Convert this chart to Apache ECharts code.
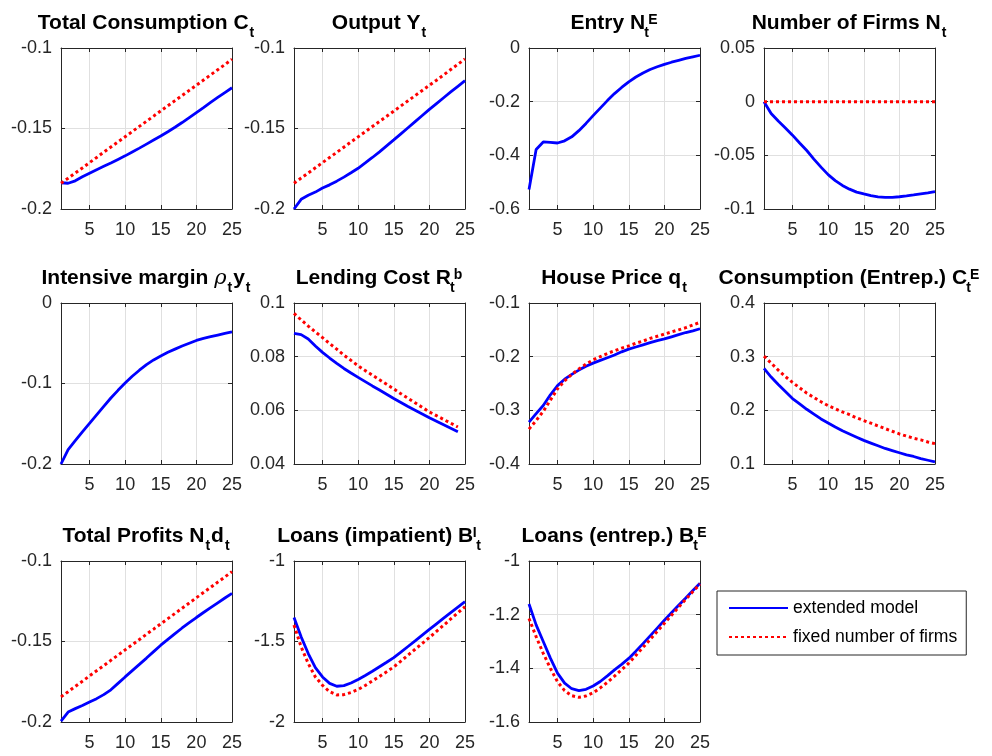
<!DOCTYPE html>
<html>
<head>
<meta charset="utf-8">
<script src="https://cdn.jsdelivr.net/npm/echarts@6/dist/echarts.min.js"></script>
<style>html,body{margin:0;padding:0;background:#fff}#chart{width:992px;height:756px}</style>
</head>
<body>
<div id="chart"></div>
<script>
// ---- data ----
const periods = [1,2,3,4,5,6,7,8,9,10,11,12,13,14,15,16,17,18,19,20,21,22,23,24,25];
const xTickValues = [5,10,15,20,25];
const seriesNames = ['extended model', 'fixed number of firms'];

const consTotalExt = [-0.1837,-0.1840,-0.1825,-0.1800,-0.1778,-0.1756,-0.1735,-0.1714,-0.1692,-0.1670,-0.1646,-0.1622,-0.1597,-0.1572,-0.1547,-0.1520,-0.1492,-0.1463,-0.1432,-0.1401,-0.1370,-0.1338,-0.1307,-0.1277,-0.1247];
const consTotalFix = [-0.1840,-0.1809,-0.1777,-0.1745,-0.1712,-0.1680,-0.1647,-0.1615,-0.1583,-0.1551,-0.1519,-0.1487,-0.1455,-0.1423,-0.1391,-0.1359,-0.1327,-0.1295,-0.1263,-0.1231,-0.1199,-0.1167,-0.1135,-0.1103,-0.1070];
const outputExt = [-0.2000,-0.1940,-0.1915,-0.1895,-0.1870,-0.1850,-0.1827,-0.1802,-0.1775,-0.1747,-0.1714,-0.1680,-0.1645,-0.1608,-0.1571,-0.1533,-0.1495,-0.1457,-0.1419,-0.1381,-0.1345,-0.1309,-0.1273,-0.1238,-0.1203];
const outputFix = [-0.1840,-0.1808,-0.1776,-0.1744,-0.1712,-0.1680,-0.1648,-0.1616,-0.1584,-0.1552,-0.1520,-0.1488,-0.1456,-0.1424,-0.1392,-0.1360,-0.1328,-0.1296,-0.1264,-0.1232,-0.1200,-0.1167,-0.1134,-0.1101,-0.1068];
const entryExt = [-0.527,-0.378,-0.350,-0.352,-0.354,-0.346,-0.331,-0.308,-0.281,-0.252,-0.224,-0.196,-0.170,-0.147,-0.126,-0.108,-0.093,-0.080,-0.070,-0.061,-0.053,-0.046,-0.039,-0.033,-0.027];
const firmsExt = [0.0000,-0.0110,-0.0180,-0.0245,-0.0312,-0.0385,-0.0455,-0.0535,-0.0610,-0.0680,-0.0735,-0.0780,-0.0815,-0.0843,-0.0860,-0.0876,-0.0887,-0.0892,-0.0891,-0.0886,-0.0878,-0.0869,-0.0859,-0.0849,-0.0838];
const firmsFix = [0,0,0,0,0,0,0,0,0,0,0,0,0,0,0,0,0,0,0,0,0,0,0,0,0];
const intMarginExt = [-0.2000,-0.1820,-0.1710,-0.1600,-0.1495,-0.1390,-0.1285,-0.1180,-0.1085,-0.0995,-0.0910,-0.0835,-0.0765,-0.0707,-0.0658,-0.0612,-0.0573,-0.0535,-0.0500,-0.0465,-0.0440,-0.0418,-0.0398,-0.0378,-0.0360];
const lendCostExt = [0.0887,0.0882,0.0866,0.0840,0.0816,0.0795,0.0775,0.0756,0.0739,0.0723,0.0707,0.0691,0.0676,0.0660,0.0644,0.0629,0.0614,0.0600,0.0586,0.0572,0.0559,0.0546,0.0533,0.0520];
const lendCostFix = [0.0961,0.0937,0.0914,0.0892,0.0871,0.0849,0.0828,0.0806,0.0786,0.0766,0.0748,0.0731,0.0714,0.0697,0.0680,0.0662,0.0645,0.0628,0.0611,0.0594,0.0580,0.0566,0.0552,0.0538];
const housePriceExt = [-0.322,-0.306,-0.291,-0.271,-0.254,-0.242,-0.233,-0.225,-0.218,-0.212,-0.207,-0.202,-0.197,-0.191,-0.186,-0.182,-0.178,-0.174,-0.170,-0.167,-0.163,-0.159,-0.155,-0.152,-0.148];
const housePriceFix = [-0.335,-0.319,-0.302,-0.281,-0.260,-0.245,-0.233,-0.223,-0.214,-0.206,-0.200,-0.194,-0.189,-0.184,-0.180,-0.175,-0.171,-0.166,-0.162,-0.158,-0.154,-0.150,-0.146,-0.141,-0.136];
const consEntExt = [0.278,0.262,0.248,0.235,0.222,0.212,0.202,0.193,0.184,0.1765,0.169,0.162,0.156,0.150,0.144,0.139,0.134,0.129,0.125,0.121,0.117,0.114,0.110,0.107,0.104];
const consEntFix = [0.301,0.288,0.275,0.263,0.252,0.242,0.232,0.224,0.216,0.2086,0.203,0.197,0.192,0.186,0.181,0.176,0.171,0.166,0.161,0.156,0.152,0.148,0.145,0.141,0.138];
const profitsExt = [-0.1995,-0.1938,-0.1917,-0.1898,-0.1876,-0.1855,-0.1830,-0.1800,-0.1760,-0.1720,-0.1681,-0.1642,-0.1603,-0.1563,-0.1523,-0.1487,-0.1451,-0.1416,-0.1383,-0.1351,-0.1320,-0.1290,-0.1260,-0.1230,-0.1201];
const profitsFix = [-0.1844,-0.1812,-0.1779,-0.1747,-0.1714,-0.1682,-0.1650,-0.1617,-0.1585,-0.1552,-0.1520,-0.1488,-0.1455,-0.1423,-0.1390,-0.1358,-0.1326,-0.1293,-0.1261,-0.1228,-0.1196,-0.1164,-0.1131,-0.1099,-0.1066];
const loansImpExt = [-1.351,-1.471,-1.575,-1.662,-1.720,-1.760,-1.778,-1.774,-1.758,-1.736,-1.711,-1.685,-1.657,-1.629,-1.600,-1.566,-1.531,-1.496,-1.460,-1.425,-1.390,-1.355,-1.321,-1.287,-1.253];
const loansImpFix = [-1.398,-1.533,-1.637,-1.720,-1.772,-1.812,-1.832,-1.830,-1.817,-1.798,-1.773,-1.745,-1.717,-1.688,-1.658,-1.622,-1.585,-1.548,-1.512,-1.475,-1.437,-1.399,-1.360,-1.322,-1.284];
const loansEntExt = [-1.160,-1.238,-1.300,-1.362,-1.418,-1.455,-1.476,-1.483,-1.478,-1.466,-1.449,-1.428,-1.406,-1.385,-1.363,-1.336,-1.308,-1.279,-1.250,-1.221,-1.193,-1.165,-1.138,-1.110,-1.083];
const loansEntFix = [-1.214,-1.282,-1.344,-1.400,-1.450,-1.483,-1.502,-1.508,-1.503,-1.491,-1.473,-1.452,-1.429,-1.405,-1.381,-1.352,-1.322,-1.292,-1.262,-1.232,-1.202,-1.172,-1.143,-1.114,-1.086];

// y-axis ranges [min, max, interval]
const yRangeList = [
  [-0.2,-0.1,0.05],[-0.2,-0.1,0.05],[-0.6,0,0.2],[-0.1,0.05,0.05],
  [-0.2,0,0.1],[0.04,0.1,0.02],[-0.4,-0.1,0.1],[0.1,0.4,0.1],
  [-0.2,-0.1,0.05],[-2,-1,0.5],[-1.6,-1,0.2]
];

// titles (rich text: m main, s subscript, s0 stacked subscript, p superscript, p0 stacked superscript, g greek)
const titleTexts = [
  '{m|Total Consumption C}{s|t}',
  '{m|Output Y}{s|t}',
  '{m|Entry N}{s0|t}{p|E}',
  '{m|Number of Firms N}{s|t}',
  '{m|Intensive margin }{g|ρ}{s|t}{m|y}{s|t}',
  '{m|Lending Cost R}{s0|t}{p|b}',
  '{m|House Price q}{s|t}',
  '{m|Consumption (Entrep.) C}{s0|t}{p|E}',
  '{m|Total Profits N}{s|t}{m|d}{s|t}',
  '{m|Loans (impatient) B}{p0|I}{s|t}',
  '{m|Loans (entrep.) B}{s0|t}{p|E}'
];

const extList = [consTotalExt, outputExt, entryExt, firmsExt, intMarginExt, lendCostExt, housePriceExt, consEntExt, profitsExt, loansImpExt, loansEntExt];
const fixList = [consTotalFix, outputFix, null, firmsFix, null, lendCostFix, housePriceFix, consEntFix, profitsFix, loansImpFix, loansEntFix];

// ---- layout / style ----
const FONT = "'Liberation Sans', Arial, Helvetica, sans-serif";
const AX = '#262626';
const colLeft = [61, 294, 529, 764];
const rowTop = [48, 303, 561];
const W = 171, H = 161;

const rich = {
  m: {fontSize: 21, fontWeight: 'bold', color: '#000', fontFamily: FONT, verticalAlign: 'top', padding: [0,0,0,0]},
  g: {fontSize: 21, fontWeight: 'normal', fontStyle: 'italic', color: '#000', fontFamily: "'DejaVu Serif', serif", verticalAlign: 'top', padding: [0,0,0,0]},
  s: {fontSize: 14, fontWeight: 'bold', color: '#000', fontFamily: FONT, verticalAlign: 'top', padding: [13,1,0,1]},
  s0: {fontSize: 14, fontWeight: 'bold', color: '#000', fontFamily: FONT, verticalAlign: 'top', padding: [13,0,0,1], width: 1},
  p: {fontSize: 14, fontWeight: 'bold', color: '#000', fontFamily: FONT, verticalAlign: 'top', padding: [0,1,0,1]},
  p0: {fontSize: 14, fontWeight: 'bold', color: '#000', fontFamily: FONT, verticalAlign: 'top', padding: [0,0,0,1], width: 1}
};

const grids = [], xAxes = [], yAxes = [], series = [], titles = [];
const toPairs = arr => arr.map((v, k) => [periods[k], v]);

extList.forEach((ext, i) => {
  const r = Math.floor(i / 4), c = i % 4;
  const [ymin, ymax, yint] = yRangeList[i];
  grids.push({left: colLeft[c], top: rowTop[r], width: W, height: H});
  titles.push({
    text: titleTexts[i], left: colLeft[c] + W / 2, top: rowTop[r] - 35, textAlign: 'center', padding: 0,
    textStyle: {rich: rich, fontSize: 21, fontWeight: 'bold', fontFamily: FONT, color: '#000'}
  });
  const xBase = {
    gridIndex: i, type: 'value', min: 1, max: 25,
    axisLine: {show: true, onZero: false, lineStyle: {color: AX, width: 1}},
    axisTick: {show: true, inside: true, length: 4, customValues: xTickValues, lineStyle: {color: AX}},
  };
  xAxes.push(Object.assign({}, xBase, {
    position: 'bottom',
    axisLabel: {show: true, customValues: xTickValues, fontSize: 18, color: AX, fontFamily: FONT, margin: 12},
    splitLine: {show: true, lineStyle: {color: '#e0e0e0', width: 1}}
  }));
  xAxes.push(Object.assign({}, xBase, {
    position: 'top', axisLabel: {show: false}, splitLine: {show: false}
  }));
  const yBase = {
    gridIndex: i, type: 'value', min: ymin, max: ymax, interval: yint,
    axisLine: {show: true, onZero: false, lineStyle: {color: AX, width: 1}},
    axisTick: {show: true, inside: true, length: 4, lineStyle: {color: AX}}
  };
  yAxes.push(Object.assign({}, yBase, {
    position: 'left',
    axisLabel: {show: true, fontSize: 18, color: AX, fontFamily: FONT, margin: 9},
    splitLine: {show: true, lineStyle: {color: '#e0e0e0', width: 1}}
  }));
  yAxes.push(Object.assign({}, yBase, {
    position: 'right', axisLabel: {show: false}, splitLine: {show: false}
  }));
  series.push({
    name: seriesNames[0], type: 'line', xAxisIndex: 2 * i, yAxisIndex: 2 * i,
    data: toPairs(ext), showSymbol: false, symbol: 'none', clip: false, z: 3,
    lineStyle: {color: '#0000ff', width: 2.8}, itemStyle: {color: '#0000ff'}
  });
  if (fixList[i]) {
    series.push({
      name: seriesNames[1], type: 'line', xAxisIndex: 2 * i, yAxisIndex: 2 * i,
      data: toPairs(fixList[i]), showSymbol: false, symbol: 'none', clip: false, z: 4,
      lineStyle: {color: '#ff0000', width: 3, type: [3, 3]}, itemStyle: {color: '#ff0000'}
    });
  }
});

const chart = echarts.init(document.getElementById('chart'), null, {renderer: 'canvas'});
chart.setOption({
  animation: false,
  backgroundColor: '#fff',
  title: titles,
  grid: grids,
  xAxis: xAxes,
  yAxis: yAxes,
  legend: {
    data: seriesNames, orient: 'vertical', left: 717, top: 591,
    padding: [8, 9, 9, 11], itemWidth: 59, itemHeight: 14, itemGap: 11,
    borderColor: AX, borderWidth: 1, backgroundColor: '#fff',
    itemStyle: {opacity: 0},
    textStyle: {fontSize: 17.6, color: '#000', fontFamily: FONT}
  },
  series: series
});
</script>
</body>
</html>
